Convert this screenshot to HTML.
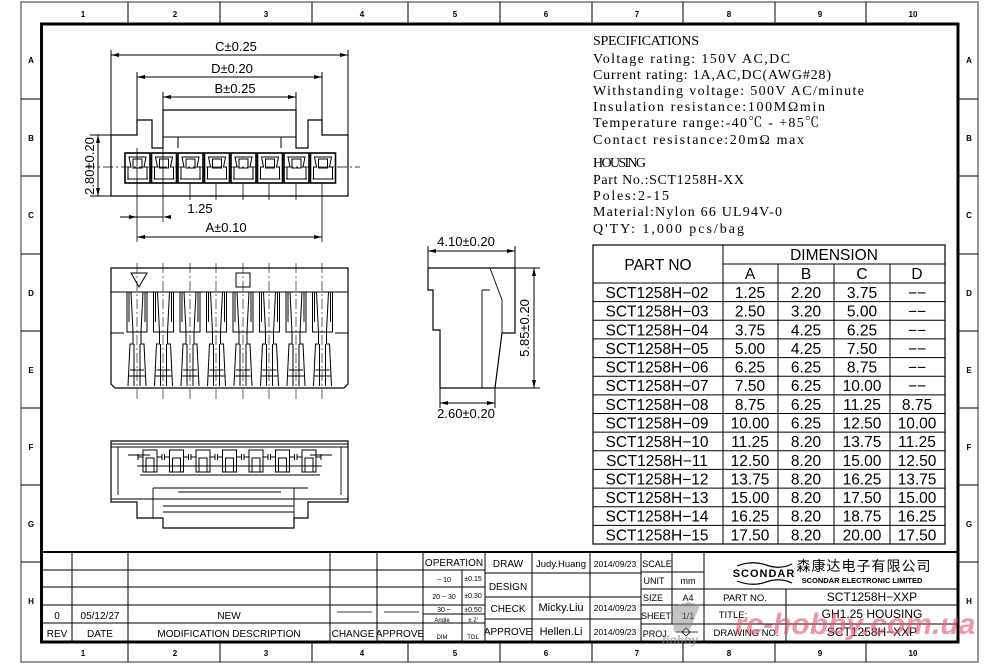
<!DOCTYPE html>
<html><head><meta charset="utf-8"><style>
html,body{margin:0;padding:0;background:#fff}
svg{display:block}
.s{font-family:"Liberation Sans",sans-serif}
.m{font-family:"Liberation Serif","Noto Serif CJK SC",serif;font-size:14px}
</style></head><body>
<svg width="1000" height="667" viewBox="0 0 1000 667" xmlns="http://www.w3.org/2000/svg" class="s" fill="none" stroke="#000">
<defs>
<g id="pin" stroke-width="1">
<rect x="0" y="0" width="25" height="30" stroke-width="1.6"/>
<path d="M4 4 H21 L19 14 H22 V26 H3 V14 H6 Z"/>
<rect x="8" y="6" width="9" height="9"/>
<line x1="2" y1="26" x2="23" y2="26"/>
</g>
<g id="fing" stroke-width="1">
<path d="M-10 0 V40 H10 V0"/>
<path d="M-6 0 L-4 40 M6 0 L4 40 M-8 0 V30 M8 0 V30"/>
<path d="M-4 40 V52 H-7 L-9 94 M4 40 V52 H7 L9 94"/>
<path d="M-3 52 V94 M3 52 V94"/>
<path d="M-7 78 H7 M-8 84 H8"/>
</g>
<g id="bot" stroke-width="1">
<rect x="-7" y="0" width="14" height="22"/>
<rect x="-4" y="8" width="8" height="14"/>
<path d="M-12 4 V10 M12 4 V10 M-12 7 H-7 M7 7 H12"/>
</g>
</defs>

<rect x="21" y="2" width="957" height="660" stroke="#777" stroke-width="1.5"/>
<rect x="41.5" y="24" width="916.5" height="618" stroke-width="3"/>
<g stroke-width="1">
<path d="M128 2V24M220 2V24M312 2V24M408 2V24M500 2V24M592 2V24M683 2V24M775 2V24M866 2V24"/>
<path d="M128 642V662M220 642V662M312 642V662M408 642V662M500 642V662M592 642V662M683 642V662M775 642V662M866 642V662"/>
<path d="M21 99H41M21 176H41M21 254H41M21 331H41M21 408H41M21 485H41M21 562H41"/>
<path d="M958 99H978M958 176H978M958 254H978M958 331H978M958 408H978M958 485H978M958 562H978"/>
</g>
<g fill="#000" stroke="none" font-size="8" font-weight="bold" text-anchor="middle">
<text x="83" y="17">1</text><text x="175" y="17">2</text><text x="266" y="17">3</text><text x="362" y="17">4</text><text x="455" y="17">5</text><text x="546" y="17">6</text><text x="637" y="17">7</text><text x="729" y="17">8</text><text x="820" y="17">9</text><text x="913" y="17">10</text>
<text x="83" y="656">1</text><text x="175" y="656">2</text><text x="266" y="656">3</text><text x="362" y="656">4</text><text x="455" y="656">5</text><text x="546" y="656">6</text><text x="637" y="656">7</text><text x="729" y="656">8</text><text x="820" y="656">9</text><text x="913" y="656">10</text>
<text x="31" y="63">A</text><text x="31" y="141">B</text><text x="31" y="218">C</text><text x="31" y="296">D</text><text x="31" y="373">E</text><text x="31" y="450">F</text><text x="31" y="527">G</text><text x="31" y="604">H</text>
<text x="969" y="63">A</text><text x="969" y="141">B</text><text x="969" y="218">C</text><text x="969" y="296">D</text><text x="969" y="373">E</text><text x="969" y="450">F</text><text x="969" y="527">G</text><text x="969" y="604">H</text>
</g>

<g stroke-width="1">
<path d="M111 135V50M348 135V50M137 120V72M322 120V72M163 110V92M296 110V92"/>
<path d="M111 55H348M137 77H322M163 97H296"/>
<path d="M111 135H137V120H152V148H163V110H296V148H308V120H322V135H348V196H111Z" stroke-width="1.2"/>
<path d="M163 137H178V148M296 137H281V148M178 137H281"/>
<path d="M85 167H360" stroke-dasharray="10 3 2 3" stroke-width="0.7"/>
<path d="M137 148V200M163 148V222M190 183V200M216 183V200M243 183V200M269 183V200M296 183V200M322 183V242M137 200V242" stroke-width="0.8"/>
<path d="M90 135H111M90 196H111M98 135V196"/>
<path d="M120 217H163M137 237H322"/>
</g>
<g fill="#000" stroke="none">
<path d="M111 55l8-2v4zM348 55l-8-2v4zM137 77l8-2v4zM322 77l-8-2v4zM163 97l8-2v4zM296 97l-8-2v4zM98 135l-2 8h4zM98 196l-2-8h4zM137 217l-8-2v4zM163 217l8-2v4zM137 237l8-2v4zM322 237l-8-2v4z"/>
</g>
<use href="#pin" x="125" y="153"/><use href="#pin" x="151.5" y="153"/><use href="#pin" x="178" y="153"/><use href="#pin" x="204.5" y="153"/><use href="#pin" x="231" y="153"/><use href="#pin" x="257.5" y="153"/><use href="#pin" x="284" y="153"/><use href="#pin" x="310.5" y="153"/>
<g fill="#000" stroke="none" font-size="13" text-anchor="middle">
<text x="236" y="51">C±0.25</text>
<text x="232" y="73">D±0.20</text>
<text x="235" y="93">B±0.25</text>
<text x="200" y="213">1.25</text>
<text x="226" y="232">A±0.10</text>
<text transform="translate(94,166) rotate(-90)">2.80±0.20</text>
</g>

<g stroke-width="1">
<path d="M111 268H348V384L344 388H115L111 384Z" stroke-width="1.2"/>
<path d="M111 292H348M111 333H124M335 333H348"/>
<path d="M131 273H147L139 287Z"/>
<rect x="236" y="273" width="14" height="14"/>
<path d="M137 263V400M163 263V400M190 263V400M216 263V400M243 263V400M269 263V400M296 263V400M322 263V400" stroke-dasharray="10 3 2 3" stroke-width="0.6"/>
</g>
<use href="#fing" x="137" y="292"/><use href="#fing" x="163.5" y="292"/><use href="#fing" x="190" y="292"/><use href="#fing" x="216.5" y="292"/><use href="#fing" x="243" y="292"/><use href="#fing" x="269.5" y="292"/><use href="#fing" x="296" y="292"/><use href="#fing" x="322.5" y="292"/>

<g stroke-width="1">
<path d="M111 441H348V502H308V518H294V528H163V518H137V502H111Z" stroke-width="1.2"/>
<path d="M111 444H348M111 447H348M111 499H348M153 488H308M153 488V518M294 488V518M163 506H294M163 512H294M178 492H281" stroke-width="0.9"/>
<path d="M118 447V495M341 447V495M128 455H150M310 455H332" stroke-width="0.9"/>
</g>
<use href="#bot" x="150" y="450"/><use href="#bot" x="176.5" y="450"/><use href="#bot" x="203" y="450"/><use href="#bot" x="229.5" y="450"/><use href="#bot" x="256" y="450"/><use href="#bot" x="282.5" y="450"/><use href="#bot" x="309" y="450"/>
<path d="M137 466H322M140 475H320" stroke-width="0.9"/>

<g stroke-width="1">
<path d="M428 268H515V333H502L495 388H440V330H433V290H428Z" stroke-width="1.2"/>
<path d="M482 290V388M490 268L502 300V333M482 290H490" stroke-width="0.9"/>
<path d="M428 268V246M515 268V246M428 251H515"/>
<path d="M515 268H540M495 388H540M534 268V388"/>
<path d="M440 388V408M495 388V408M440 403H495"/>
</g>
<g fill="#000" stroke="none">
<path d="M428 251l8-2v4zM515 251l-8-2v4zM534 268l-2 8h4zM534 388l-2-8h4zM440 403l8-2v4zM495 403l-8-2v4z"/>
</g>
<g fill="#000" stroke="none" font-size="13" text-anchor="middle">
<text x="466" y="246">4.10±0.20</text>
<text x="466" y="418">2.60±0.20</text>
<text transform="translate(529,328) rotate(-90)">5.85±0.20</text>
</g>

<g fill="#000" stroke="none" class="m">
<text x="593" y="45" textLength="106">SPECIFICATIONS</text>
<text x="593" y="63" textLength="197">Voltage rating: 150V AC,DC</text>
<text x="593" y="79" textLength="238">Current rating: 1A,AC,DC(AWG#28)</text>
<text x="593" y="95" textLength="271">Withstanding voltage: 500V AC/minute</text>
<text x="593" y="111" textLength="232">Insulation resistance:100MΩmin</text>
<text x="593" y="127" textLength="226">Temperature range:-40℃ - +85℃</text>
<text x="593" y="144" textLength="211">Contact resistance:20mΩ  max</text>
<text x="593" y="167" textLength="53">HOUSING</text>
<text x="593" y="184" textLength="151">Part No.:SCT1258H-XX</text>
<text x="593" y="200" textLength="76">Poles:2-15</text>
<text x="593" y="216" textLength="189">Material:Nylon 66 UL94V-0</text>
<text x="593" y="233" textLength="151">Q'TY:  1,000 pcs/bag</text>
</g>

<g stroke-width="1">
<rect x="593" y="245" width="352" height="299" stroke-width="1.2"/>
<path d="M723 264H945M593 283H945M723 245V544M778 264V544M834 264V544M890 264V544"/>
<path d="M593 301.6H945M593 320.3H945M593 338.9H945M593 357.6H945M593 376.2H945M593 394.9H945M593 413.5H945M593 432.1H945M593 450.8H945M593 469.4H945M593 488.1H945M593 506.7H945M593 525.4H945"/>
</g>
<g fill="#000" stroke="none" font-size="15.5" text-anchor="middle">
<text x="658" y="270">PART  NO</text>
<text x="834" y="260">DIMENSION</text>
<text x="750" y="279">A</text><text x="806" y="279">B</text><text x="862" y="279">C</text><text x="917" y="279">D</text>
</g>
<g fill="#000" stroke="none" font-size="15.5" text-anchor="middle">
<g transform="translate(0,298)"><text x="657">SCT1258H−02</text><text x="750">1.25</text><text x="806">2.20</text><text x="862">3.75</text><text x="917">−−</text></g>
<g transform="translate(0,316.6)"><text x="657">SCT1258H−03</text><text x="750">2.50</text><text x="806">3.20</text><text x="862">5.00</text><text x="917">−−</text></g>
<g transform="translate(0,335.3)"><text x="657">SCT1258H−04</text><text x="750">3.75</text><text x="806">4.25</text><text x="862">6.25</text><text x="917">−−</text></g>
<g transform="translate(0,353.9)"><text x="657">SCT1258H−05</text><text x="750">5.00</text><text x="806">4.25</text><text x="862">7.50</text><text x="917">−−</text></g>
<g transform="translate(0,372.6)"><text x="657">SCT1258H−06</text><text x="750">6.25</text><text x="806">6.25</text><text x="862">8.75</text><text x="917">−−</text></g>
<g transform="translate(0,391.2)"><text x="657">SCT1258H−07</text><text x="750">7.50</text><text x="806">6.25</text><text x="862">10.00</text><text x="917">−−</text></g>
<g transform="translate(0,409.9)"><text x="657">SCT1258H−08</text><text x="750">8.75</text><text x="806">6.25</text><text x="862">11.25</text><text x="917">8.75</text></g>
<g transform="translate(0,428.5)"><text x="657">SCT1258H−09</text><text x="750">10.00</text><text x="806">6.25</text><text x="862">12.50</text><text x="917">10.00</text></g>
<g transform="translate(0,447.1)"><text x="657">SCT1258H−10</text><text x="750">11.25</text><text x="806">8.20</text><text x="862">13.75</text><text x="917">11.25</text></g>
<g transform="translate(0,465.8)"><text x="657">SCT1258H−11</text><text x="750">12.50</text><text x="806">8.20</text><text x="862">15.00</text><text x="917">12.50</text></g>
<g transform="translate(0,484.4)"><text x="657">SCT1258H−12</text><text x="750">13.75</text><text x="806">8.20</text><text x="862">16.25</text><text x="917">13.75</text></g>
<g transform="translate(0,503.1)"><text x="657">SCT1258H−13</text><text x="750">15.00</text><text x="806">8.20</text><text x="862">17.50</text><text x="917">15.00</text></g>
<g transform="translate(0,521.7)"><text x="657">SCT1258H−14</text><text x="750">16.25</text><text x="806">8.20</text><text x="862">18.75</text><text x="917">16.25</text></g>
<g transform="translate(0,540.4)"><text x="657">SCT1258H−15</text><text x="750">17.50</text><text x="806">8.20</text><text x="862">20.00</text><text x="917">17.50</text></g>
</g>

<g stroke-width="1">
<path d="M41 552H958" stroke-width="2"/>
<path d="M41 570H423M41 587H423M41 605H423M41 623H423"/>
<path d="M423 570H485M423 587H485M423 605H485M423 614H485M423 623H485"/>
<path d="M485 573H641M485 597H641M485 619H641"/>
<path d="M641 572H704M641 589H958M641 605H958M641 624H958"/>
<path d="M72 552V642M128 552V642M330 552V642M377 552V642M423 552V642M462 570V642M485 552V642M532 552V642M590 552V642M641 552V642M672 552V624M704 552V642M786 589V642"/>
</g>
<g fill="#000" stroke="none" font-size="10" text-anchor="middle">
<text x="57" y="619">0</text><text x="100" y="619">05/12/27</text><text x="229" y="619">NEW</text>
<text x="57" y="637">REV</text><text x="100" y="637">DATE</text><text x="229" y="637">MODIFICATION  DESCRIPTION</text><text x="353" y="637">CHANGE</text><text x="400" y="637">APPROVE</text>
<text x="454" y="566">OPERATION</text>
<text x="508" y="567">DRAW</text><text x="508" y="590">DESIGN</text><text x="508" y="612">CHECK</text><text x="508" y="635">APPROVE</text>
<text x="561" y="567" font-size="9.5">Judy.Huang</text><text x="561" y="611" font-size="11">Micky.Liu</text><text x="561" y="635" font-size="11">Hellen.Li</text>
<text x="615" y="567" font-size="8.5">2014/09/23</text><text x="615" y="611" font-size="8.5">2014/09/23</text><text x="615" y="635" font-size="8.5">2014/09/23</text>
<text x="657" y="567" font-size="9">SCALE</text><text x="654" y="584" font-size="9">UNIT</text><text x="688" y="584" font-size="9">mm</text>
<text x="653" y="601" font-size="9">SIZE</text><text x="688" y="601" font-size="9">A4</text>
<text x="656" y="619" font-size="9">SHEET</text><text x="688" y="619" font-size="9">1/1</text><text x="656" y="637" font-size="9">PROJ.</text>
<text x="745" y="601" font-size="9.5">PART  NO.</text><text x="733" y="618" font-size="9.5">TITLE:</text><text x="746" y="636" font-size="9.5">DRAWING  NO.</text>
<text x="872" y="601" font-size="12">SCT1258H−XXP</text><text x="872" y="618" font-size="12">GH1.25  HOUSING</text><text x="872" y="636" font-size="12">SCT1258H−XXP</text>
<text x="764" y="577" font-size="11" font-weight="bold" letter-spacing="1">SCONDAR</text>
<text x="864" y="571" font-size="14" font-family="'Noto Sans CJK SC',sans-serif" letter-spacing="1">森康达电子有限公司</text>
<text x="862" y="583" font-size="7.5" font-weight="bold">SCONDAR ELECTRONIC LIMITED</text>
</g>
<g fill="#000" stroke="none" font-size="7" text-anchor="middle">
<text x="444" y="582">~ 10</text><text x="473" y="581">±0.15</text>
<text x="444" y="599">20 ~ 30</text><text x="473" y="598">±0.30</text>
<text x="444" y="612">30 ~</text><text x="473" y="612">±0.50</text>
<text x="442" y="622" font-size="6">Angle</text><text x="473" y="622" font-size="6">± 2'</text>
<text x="442" y="639" font-size="6">DIM</text><text x="473" y="639" font-size="6">TOL</text>
</g>
<path d="M337 612H372M384 612H419" stroke-width="0.8"/>
<path d="M737 566Q752 560 766 565Q780 570 792 564M737 581Q752 587 766 582Q780 577 792 583" stroke-width="1.2"/>
<path d="M676 632H698M686 628l-4 4l4 4l4-4z" stroke-width="0.8"/>
<path d="M672 607L688 602L700 605L690 630L674 632Z" fill="#888" fill-opacity="0.5" stroke="none"/>
<text x="680" y="644" fill="#888" fill-opacity="0.6" stroke="none" font-size="12" font-weight="bold" font-style="italic" text-anchor="middle">hobby</text>
<text x="855" y="634" fill="#e8506e" fill-opacity="0.6" stroke="none" font-size="30" font-weight="bold" font-style="italic" text-anchor="middle">rc-hobby.com.ua</text>
</svg>
</body></html>
